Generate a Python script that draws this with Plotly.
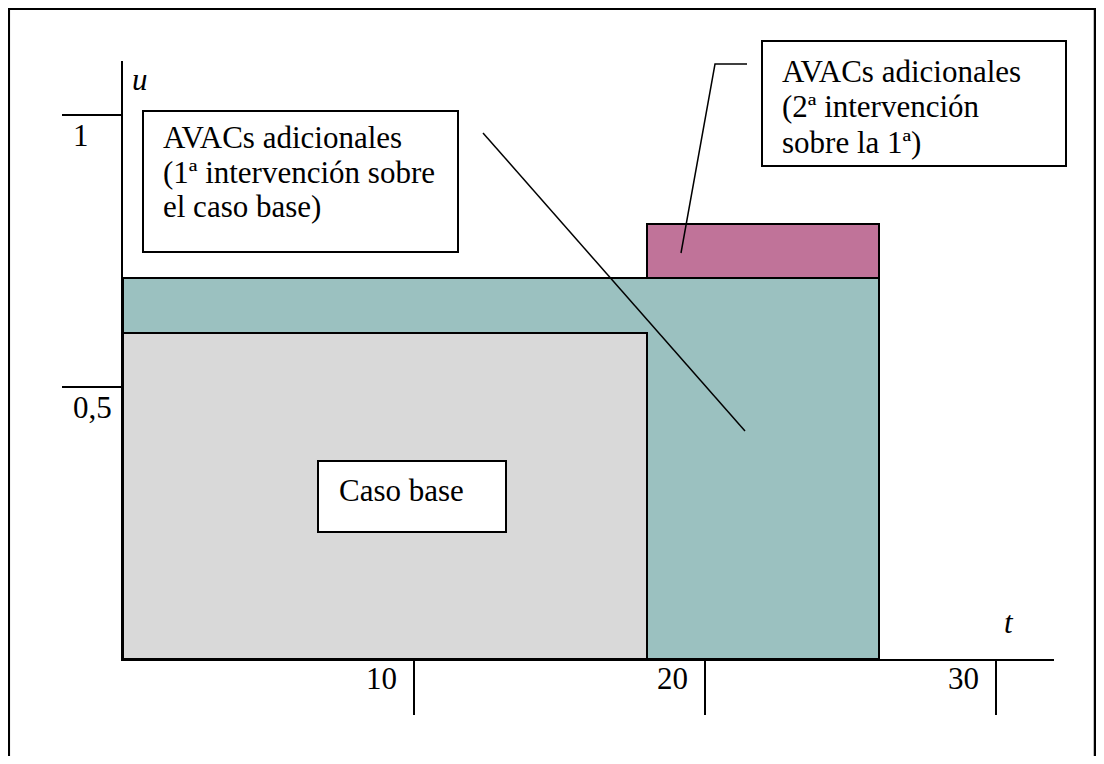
import plotly.graph_objects as go

# ---- data ----
segments = ["AVACs adicionales (1ª intervención)", "Caso base", "AVACs adicionales (2ª intervención)"]
t_start = [0, 0, 18]
t_end = [26, 18, 26]
u_low = [0.0, 0.0, 0.7]
u_high = [0.7, 0.6, 0.8]
seg_colors = ["#9bc1c0", "#d9d9d9", "#c07399"]

x_tickvals = [10, 20, 30]
x_ticklabels = ["10", "20", "30"]
y_tickvals = [0.5, 1]
y_ticklabels = ["0,5", "1"]

box1_lines = ["AVACs adicionales", "(1ª intervención sobre", "el caso base)"]
box2_lines = ["AVACs adicionales", "(2ª intervención", "sobre la 1ª)"]
box3_lines = ["Caso base"]

# ---- layout geometry (page pixels; the page body has an 8px margin) ----
OFF = 8
W, H = 1104 - 2 * OFF, 764 - 2 * OFF
PLOT_L, PLOT_R, PLOT_T, PLOT_B = 123, 1054, 61, 659   # page coordinates
L, T = PLOT_L - OFF, PLOT_T - OFF
R = W - (PLOT_R - OFF)
B = H - (PLOT_B - OFF)
PW, PH = PLOT_R - PLOT_L, PLOT_B - PLOT_T


def px(x):
    return (x - PLOT_L) / PW


def py(y):
    return (PLOT_B - y) / PH


FONT = "Liberation Serif, Times New Roman, serif"
FS = 31
PITCH = 35

fig = go.Figure()
fig.add_trace(go.Bar(
    x=[(a + b) / 2 for a, b in zip(t_start, t_end)],
    width=[b - a for a, b in zip(t_start, t_end)],
    base=u_low,
    y=[h - l for l, h in zip(u_low, u_high)],
    marker=dict(color=seg_colors, line=dict(color="black", width=2)),
    text=segments, hoverinfo="text", textposition="none",
    showlegend=False,
))

shapes = []
shapes.append(dict(type="rect", xref="paper", yref="paper",
                   x0=px(8.8), x1=px(1095), y0=py(8.8), y1=py(800),
                   line=dict(color="black", width=2.5), fillcolor="rgba(0,0,0,0)", layer="above"))


def textbox(x0, y0, x1, y1):
    shapes.append(dict(type="rect", xref="paper", yref="paper",
                       x0=px(x0), x1=px(x1), y0=py(y0), y1=py(y1),
                       line=dict(color="black", width=2), fillcolor="white", layer="above"))


textbox(143, 111, 458, 252)
textbox(762, 41, 1066, 166)
textbox(318, 461, 506, 532)

shapes.append(dict(type="line", xref="paper", yref="paper",
                   x0=px(483), y0=py(133), x1=px(745), y1=py(431),
                   line=dict(color="black", width=1.5), layer="above"))
shapes.append(dict(type="path", xref="paper", yref="paper",
                   path=f"M {px(747)},{py(64)} L {px(715)},{py(64)} L {px(681)},{py(253)}",
                   line=dict(color="black", width=1.5), layer="above"))

ann = []


def line_text(txt, x, y, size=FS, anchor="left"):
    ann.append(dict(text=txt, xref="paper", yref="paper", x=px(x), y=py(y),
                    xanchor=anchor, yanchor="middle", showarrow=False, borderpad=0,
                    font=dict(family=FONT, size=size, color="black")))


for i, s in enumerate(box1_lines):
    line_text(s, 162, 137 + i * PITCH)
for i, s in enumerate(box2_lines):
    line_text(s, 781, 72 + i * PITCH)
for i, s in enumerate(box3_lines):
    line_text(s, 338, 490)

for v, s in zip(x_tickvals, x_ticklabels):
    ann.append(dict(text=s, xref="x", yref="paper", x=v, y=0, xanchor="right", yanchor="middle",
                    xshift=-16, yshift=-19, showarrow=False, borderpad=0,
                    font=dict(family=FONT, size=FS, color="black")))
for v, s in zip(y_tickvals, y_ticklabels):
    ann.append(dict(text=s, xref="paper", yref="y", x=0, y=v, xanchor="left", yanchor="middle",
                    xshift=-51, yshift=-20, showarrow=False, borderpad=0,
                    font=dict(family=FONT, size=FS, color="black")))

line_text("<i>u</i>", 131, 80, size=FS)
line_text("<i>t</i>", 1003, 622, size=FS)

fig.update_layout(
    width=W, height=H,
    margin=dict(l=L, r=R, t=T, b=B),
    paper_bgcolor="white", plot_bgcolor="white",
    font=dict(family=FONT),
    barmode="overlay", bargap=0,
    shapes=shapes, annotations=ann,
    xaxis=dict(range=[0, 32], showline=True, linecolor="black", linewidth=2,
               showgrid=False, zeroline=False, ticks="outside", tickvals=x_tickvals,
               ticklen=54, tickwidth=2, tickcolor="black", showticklabels=False, fixedrange=True),
    yaxis=dict(range=[0, 1.1], showline=True, linecolor="black", linewidth=2,
               showgrid=False, zeroline=False, ticks="outside", tickvals=y_tickvals,
               ticklen=59, tickwidth=2, tickcolor="black", showticklabels=False, fixedrange=True),
)

fig.write_html("out.html", config={"displayModeBar": False})
